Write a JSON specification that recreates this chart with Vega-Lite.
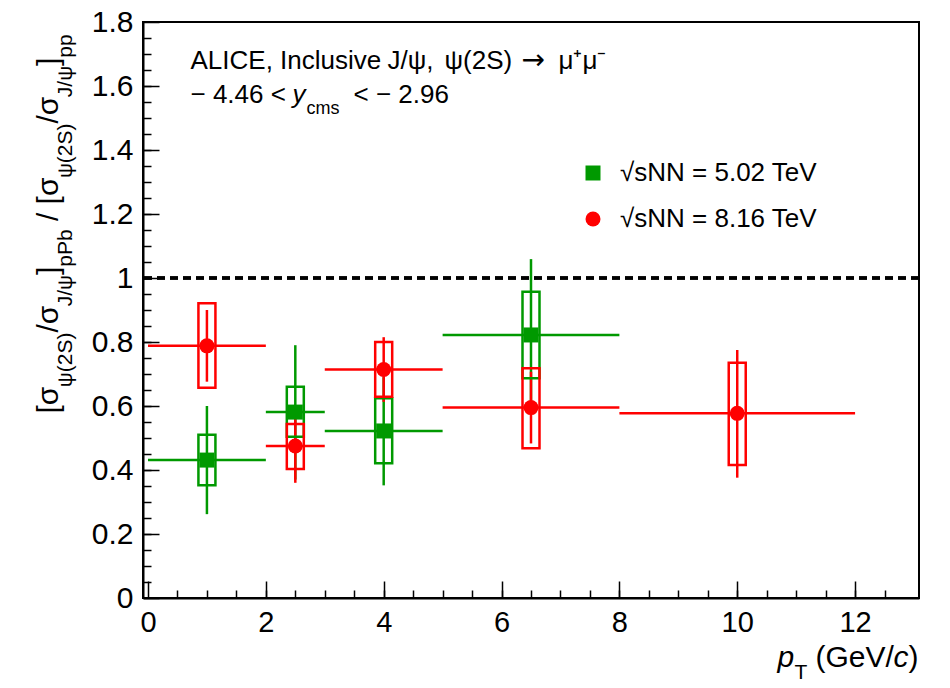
{
  "$schema": "https://vega.github.io/schema/vega-lite/v6.json",
  "width": 776,
  "height": 576,
  "autosize": {"type": "none"},
  "padding": {"left": 143, "top": 22, "right": 31, "bottom": 90},
  "background": "white",
  "config": {
    "font": "Liberation Sans",
    "view": {"stroke": "black", "strokeWidth": 2},
    "axis": {"grid": false, "titleFont": "Liberation Sans", "labelFont": "Liberation Sans", "titleColor": "black", "labelColor": "black", "titleFontWeight": "normal", "tickColor": "black", "domainColor": "black", "titleLimit": 0},
    "legend": {"labelFont": "Liberation Sans", "labelColor": "black"}
  },
  "data": {"values": [
    {"energy": "5.02", "pt": 1, "ptlo": 0, "pthi": 2, "r": 0.431, "statlo": 0.262, "stathi": 0.6, "syslo": 0.352, "syshi": 0.51},
    {"energy": "5.02", "pt": 2.5, "ptlo": 2, "pthi": 3, "r": 0.581, "statlo": 0.37, "stathi": 0.79, "syslo": 0.504, "syshi": 0.66},
    {"energy": "5.02", "pt": 4, "ptlo": 3, "pthi": 5, "r": 0.522, "statlo": 0.352, "stathi": 0.69, "syslo": 0.421, "syshi": 0.624},
    {"energy": "5.02", "pt": 6.5, "ptlo": 5, "pthi": 8, "r": 0.822, "statlo": 0.585, "stathi": 1.059, "syslo": 0.687, "syshi": 0.957},
    {"energy": "8.16", "pt": 1, "ptlo": 0, "pthi": 2, "r": 0.788, "statlo": 0.676, "stathi": 0.9, "syslo": 0.657, "syshi": 0.921},
    {"energy": "8.16", "pt": 2.5, "ptlo": 2, "pthi": 3, "r": 0.475, "statlo": 0.36, "stathi": 0.588, "syslo": 0.403, "syshi": 0.544},
    {"energy": "8.16", "pt": 4, "ptlo": 3, "pthi": 5, "r": 0.714, "statlo": 0.613, "stathi": 0.815, "syslo": 0.629, "syshi": 0.8},
    {"energy": "8.16", "pt": 6.5, "ptlo": 5, "pthi": 8, "r": 0.595, "statlo": 0.483, "stathi": 0.707, "syslo": 0.468, "syshi": 0.718},
    {"energy": "8.16", "pt": 10, "ptlo": 8, "pthi": 12, "r": 0.577, "statlo": 0.376, "stathi": 0.775, "syslo": 0.416, "syshi": 0.735}
  ]},
  "resolve": {"axis": {"x": "independent", "y": "independent"}},
  "layer": [
    {
      "mark": {"type": "rule", "color": "black", "strokeWidth": 2.5, "strokeDash": [8, 5]},
      "encoding": {"y": {"datum": 1, "type": "quantitative", "scale": {"domain": [0, 1.8], "nice": false, "zero": false}, "axis": null}}
    },
    {
      "mark": {"type": "rule", "strokeWidth": 2.5},
      "encoding": {
        "x": {"field": "ptlo", "type": "quantitative", "scale": {"domain": [0, 13], "nice": false, "zero": false},
          "axis": {"orient": "bottom", "values": [0, 2, 4, 6, 8, 10, 12], "format": "~g", "tickSize": -17, "tickWidth": 1.5, "labelFontSize": 29, "labelPadding": 27, "labelFlush": false, "labelOverlap": false, "domain": true, "domainWidth": 2, "title": null}},
        "x2": {"field": "pthi"},
        "y": {"field": "r", "type": "quantitative",
          "axis": {"orient": "left", "values": [0, 0.2, 0.4, 0.6, 0.8, 1, 1.2, 1.4, 1.6, 1.8], "format": "~g", "tickSize": -16, "tickWidth": 1.5, "labelFontSize": 30, "labelPadding": 26, "labelFlush": false, "labelOverlap": false, "domain": true, "domainWidth": 2, "title": null}},
        "stroke": {"field": "energy", "type": "nominal", "scale": {"domain": ["5.02", "8.16"], "range": ["#009900", "#ff0000"]}}
      }
    },
    {
      "mark": {"type": "rule", "strokeWidth": 2.5},
      "encoding": {
        "x": {"field": "pt", "type": "quantitative",
          "axis": {"orient": "bottom", "values": [0.5, 1, 1.5, 2, 2.5, 3, 3.5, 4, 4.5, 5, 5.5, 6, 6.5, 7, 7.5, 8, 8.5, 9, 9.5, 10, 10.5, 11, 11.5, 12, 12.5], "tickSize": -8, "tickWidth": 1.5, "labels": false, "domain": false, "title": null}},
        "y": {"field": "statlo", "type": "quantitative",
          "axis": {"orient": "left", "values": [0.05, 0.1, 0.15, 0.2, 0.25, 0.3, 0.35, 0.4, 0.45, 0.5, 0.55, 0.6, 0.65, 0.7, 0.75, 0.8, 0.85, 0.9, 0.95, 1, 1.05, 1.1, 1.15, 1.2, 1.25, 1.3, 1.35, 1.4, 1.45, 1.5, 1.55, 1.6, 1.65, 1.7, 1.75], "tickSize": -8, "tickWidth": 1.5, "labels": false, "domain": false, "title": null}},
        "y2": {"field": "stathi"},
        "stroke": {"field": "energy", "type": "nominal"}
      }
    },
    {
      "mark": {"type": "bar", "filled": false, "strokeWidth": 2.5, "width": 17},
      "encoding": {
        "x": {"field": "pt", "type": "quantitative", "axis": null},
        "y": {"field": "syslo", "type": "quantitative", "axis": null},
        "y2": {"field": "syshi"},
        "stroke": {"field": "energy", "type": "nominal"}
      }
    },
    {
      "mark": {"type": "point", "filled": true, "opacity": 1, "size": 225},
      "encoding": {
        "x": {"field": "pt", "type": "quantitative", "axis": null},
        "y": {"field": "r", "type": "quantitative", "axis": null},
        "color": {"field": "energy", "type": "nominal", "scale": {"domain": ["5.02", "8.16"], "range": ["#009900", "#ff0000"]},
          "legend": {"orient": "none", "legendX": 437, "legendY": 138, "title": null, "labelExpr": "'√sNN = ' + datum.label + ' TeV'", "labelFontSize": 26, "labelLimit": 0, "symbolSize": 225, "rowPadding": 20, "labelOffset": 14, "padding": 0, "symbolStrokeWidth": 0, "symbolOpacity": 1}},
        "shape": {"field": "energy", "type": "nominal", "scale": {"domain": ["5.02", "8.16"], "range": ["square", "circle"]},
          "legend": {"orient": "none", "legendX": 437, "legendY": 138, "title": null, "labelExpr": "'√sNN = ' + datum.label + ' TeV'", "labelFontSize": 26, "labelLimit": 0, "symbolSize": 225, "rowPadding": 20, "labelOffset": 14, "padding": 0, "symbolStrokeWidth": 0, "symbolOpacity": 1}}
      }
    },
    {
      "mark": {"type": "point", "opacity": 0},
      "encoding": {
        "x": {"field": "pt", "type": "quantitative", "axis": {"orient": "top", "title": "p", "titleFontStyle": "italic", "titleX": 634, "titleY": 644, "titleAngle": 0, "titleAlign": "left", "titleBaseline": "alphabetic", "titleFontSize": 30, "labels": false, "ticks": false, "domain": false}},
        "y": {"field": "r", "type": "quantitative", "axis": {"orient": "left", "title": "[σ", "titleX": -86, "titleY": 391, "titleAngle": 270, "titleAlign": "left", "titleBaseline": "alphabetic", "titleFontSize": 30, "labels": false, "ticks": false, "domain": false}}
      }
    },
    {
      "mark": {"type": "point", "opacity": 0},
      "encoding": {
        "x": {"field": "pt", "type": "quantitative", "axis": {"orient": "top", "title": "T", "titleX": 651, "titleY": 656, "titleAngle": 0, "titleAlign": "left", "titleBaseline": "alphabetic", "titleFontSize": 21, "labels": false, "ticks": false, "domain": false}},
        "y": {"field": "r", "type": "quantitative", "axis": {"orient": "left", "title": "ψ(2S)", "titleX": -72, "titleY": 364.7, "titleAngle": 270, "titleAlign": "left", "titleBaseline": "alphabetic", "titleFontSize": 21, "labels": false, "ticks": false, "domain": false}}
      }
    },
    {
      "mark": {"type": "point", "opacity": 0},
      "encoding": {
        "x": {"field": "pt", "type": "quantitative", "axis": {"orient": "top", "title": "(GeV/", "titleX": 672, "titleY": 644, "titleAngle": 0, "titleAlign": "left", "titleBaseline": "alphabetic", "titleFontSize": 30, "labels": false, "ticks": false, "domain": false}},
        "y": {"field": "r", "type": "quantitative", "axis": {"orient": "left", "title": "/σ", "titleX": -86, "titleY": 310.1, "titleAngle": 270, "titleAlign": "left", "titleBaseline": "alphabetic", "titleFontSize": 30, "labels": false, "ticks": false, "domain": false}}
      }
    },
    {
      "mark": {"type": "point", "opacity": 0},
      "encoding": {
        "x": {"field": "pt", "type": "quantitative", "axis": {"orient": "top", "title": "c", "titleFontStyle": "italic", "titleX": 750, "titleY": 644, "titleAngle": 0, "titleAlign": "left", "titleBaseline": "alphabetic", "titleFontSize": 30, "labels": false, "ticks": false, "domain": false}},
        "y": {"field": "r", "type": "quantitative", "axis": {"orient": "left", "title": "J/ψ", "titleX": -72, "titleY": 283.8, "titleAngle": 270, "titleAlign": "left", "titleBaseline": "alphabetic", "titleFontSize": 21, "labels": false, "ticks": false, "domain": false}}
      }
    },
    {
      "mark": {"type": "point", "opacity": 0},
      "encoding": {
        "x": {"field": "pt", "type": "quantitative", "axis": {"orient": "top", "title": ")", "titleX": 765, "titleY": 644, "titleAngle": 0, "titleAlign": "left", "titleBaseline": "alphabetic", "titleFontSize": 30, "labels": false, "ticks": false, "domain": false}},
        "y": {"field": "r", "type": "quantitative", "axis": {"orient": "left", "title": "]", "titleX": -86, "titleY": 252.6, "titleAngle": 270, "titleAlign": "left", "titleBaseline": "alphabetic", "titleFontSize": 30, "labels": false, "ticks": false, "domain": false}}
      }
    },
    {
      "mark": {"type": "point", "opacity": 0},
      "encoding": {
        "x": {"field": "pt", "type": "quantitative", "axis": {"orient": "top", "title": "ALICE, Inclusive", "titleX": 47, "titleY": 46, "titleAngle": 0, "titleAlign": "left", "titleBaseline": "alphabetic", "titleFontSize": 26, "labels": false, "ticks": false, "domain": false}},
        "y": {"field": "r", "type": "quantitative", "axis": {"orient": "left", "title": "pPb", "titleX": -72, "titleY": 244.3, "titleAngle": 270, "titleAlign": "left", "titleBaseline": "alphabetic", "titleFontSize": 21, "labels": false, "ticks": false, "domain": false}}
      }
    },
    {
      "mark": {"type": "point", "opacity": 0},
      "encoding": {
        "x": {"field": "pt", "type": "quantitative", "axis": {"orient": "top", "title": "− 4.46 <", "titleX": 47, "titleY": 80, "titleAngle": 0, "titleAlign": "left", "titleBaseline": "alphabetic", "titleFontSize": 26, "labels": false, "ticks": false, "domain": false}},
        "y": {"field": "r", "type": "quantitative", "axis": {"orient": "left", "title": "/", "titleX": -86, "titleY": 198.6, "titleAngle": 270, "titleAlign": "left", "titleBaseline": "alphabetic", "titleFontSize": 30, "labels": false, "ticks": false, "domain": false}}
      }
    },
    {
      "mark": {"type": "point", "opacity": 0},
      "encoding": {
        "x": {"field": "pt", "type": "quantitative", "axis": {"orient": "top", "title": "y", "titleFontStyle": "italic", "titleX": 149, "titleY": 80, "titleAngle": 0, "titleAlign": "left", "titleBaseline": "alphabetic", "titleFontSize": 26, "labels": false, "ticks": false, "domain": false}},
        "y": {"field": "r", "type": "quantitative", "axis": {"orient": "left", "title": "[σ", "titleX": -86, "titleY": 181.9, "titleAngle": 270, "titleAlign": "left", "titleBaseline": "alphabetic", "titleFontSize": 30, "labels": false, "ticks": false, "domain": false}}
      }
    },
    {
      "mark": {"type": "point", "opacity": 0},
      "encoding": {
        "x": {"field": "pt", "type": "quantitative", "axis": {"orient": "top", "title": "cms", "titleX": 163, "titleY": 91, "titleAngle": 0, "titleAlign": "left", "titleBaseline": "alphabetic", "titleFontSize": 18, "labels": false, "ticks": false, "domain": false}},
        "y": {"field": "r", "type": "quantitative", "axis": {"orient": "left", "title": "ψ(2S)", "titleX": -72, "titleY": 155.6, "titleAngle": 270, "titleAlign": "left", "titleBaseline": "alphabetic", "titleFontSize": 21, "labels": false, "ticks": false, "domain": false}}
      }
    },
    {
      "mark": {"type": "point", "opacity": 0},
      "encoding": {
        "x": {"field": "pt", "type": "quantitative", "axis": {"orient": "top", "title": "< − 2.96", "titleX": 210, "titleY": 80, "titleAngle": 0, "titleAlign": "left", "titleBaseline": "alphabetic", "titleFontSize": 26, "labels": false, "ticks": false, "domain": false}},
        "y": {"field": "r", "type": "quantitative", "axis": {"orient": "left", "title": "/σ", "titleX": -86, "titleY": 101, "titleAngle": 270, "titleAlign": "left", "titleBaseline": "alphabetic", "titleFontSize": 30, "labels": false, "ticks": false, "domain": false}}
      }
    },
    {
      "mark": {"type": "point", "opacity": 0},
      "encoding": {
        "x": {"field": "pt", "type": "quantitative", "axis": {"orient": "top", "title": "J/ψ,", "titleX": 244, "titleY": 46, "titleAngle": 0, "titleAlign": "left", "titleBaseline": "alphabetic", "titleFontSize": 26, "labels": false, "ticks": false, "domain": false}},
        "y": {"field": "r", "type": "quantitative", "axis": {"orient": "left", "title": "J/ψ", "titleX": -72, "titleY": 74.7, "titleAngle": 270, "titleAlign": "left", "titleBaseline": "alphabetic", "titleFontSize": 21, "labels": false, "ticks": false, "domain": false}}
      }
    },
    {
      "mark": {"type": "point", "opacity": 0},
      "encoding": {
        "x": {"field": "pt", "type": "quantitative", "axis": {"orient": "top", "title": "ψ(2S)", "titleX": 301, "titleY": 46, "titleAngle": 0, "titleAlign": "left", "titleBaseline": "alphabetic", "titleFontSize": 26, "labels": false, "ticks": false, "domain": false}},
        "y": {"field": "r", "type": "quantitative", "axis": {"orient": "left", "title": "]", "titleX": -86, "titleY": 43.5, "titleAngle": 270, "titleAlign": "left", "titleBaseline": "alphabetic", "titleFontSize": 30, "labels": false, "ticks": false, "domain": false}}
      }
    },
    {
      "mark": {"type": "point", "opacity": 0},
      "encoding": {
        "x": {"field": "pt", "type": "quantitative", "axis": {"orient": "top", "title": "→", "titleX": 378, "titleY": 46, "titleAngle": 0, "titleAlign": "left", "titleBaseline": "alphabetic", "titleFontSize": 28, "titleFont": "DejaVu Sans", "labels": false, "ticks": false, "domain": false}},
        "y": {"field": "r", "type": "quantitative", "axis": {"orient": "left", "title": "pp", "titleX": -72, "titleY": 35.2, "titleAngle": 270, "titleAlign": "left", "titleBaseline": "alphabetic", "titleFontSize": 21, "labels": false, "ticks": false, "domain": false}}
      }
    },
    {
      "mark": {"type": "point", "opacity": 0},
      "encoding": {
        "x": {"field": "pt", "type": "quantitative", "axis": {"orient": "top", "title": "μ⁺μ⁻", "titleX": 415, "titleY": 46, "titleAngle": 0, "titleAlign": "left", "titleBaseline": "alphabetic", "titleFontSize": 26, "labels": false, "ticks": false, "domain": false}},
        "y": {"field": "r", "type": "quantitative", "axis": null}
      }
    }
  ]
}
